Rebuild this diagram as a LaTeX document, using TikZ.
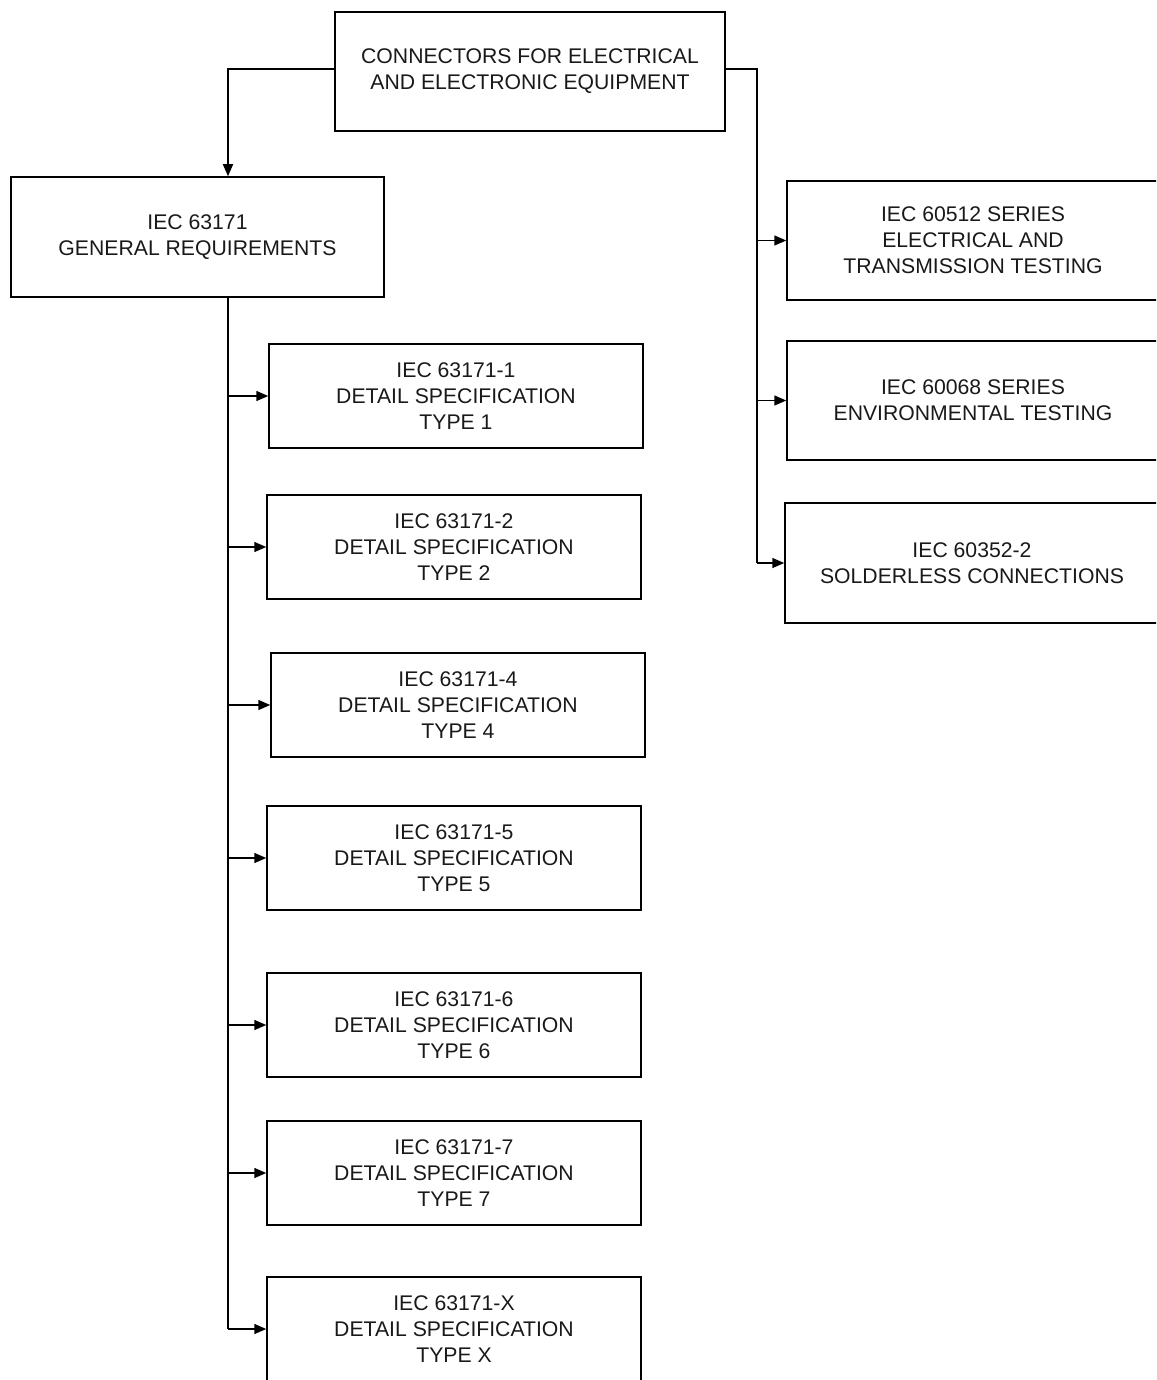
\documentclass[tikz,border=0pt]{standalone}
\usepackage{fontspec}
\setmainfont{Liberation Sans}
\usetikzlibrary{arrows.meta}
\begin{document}
\begin{tikzpicture}[x=1pt,y=-1pt,
  box/.style={draw,line width=1.5pt,align=center,inner sep=0pt,
    font=\fontsize{21.2}{26}\selectfont,text=black!90},
  conn/.style={line width=1.5pt,-{Triangle[length=12pt,width=10pt]}},
  wire/.style={line width=1.5pt}]
\useasboundingbox (0,0) rectangle (1156,1380);
\clip (0,0) rectangle (1156,1380);
% top
\node[box,minimum width=390pt,minimum height=119pt] (top) at (530,71.5) {CONNECTORS FOR ELECTRICAL\\AND ELECTRONIC EQUIPMENT};
\node[box,minimum width=373pt,minimum height=120pt] (gr) at (197.5,237) {IEC 63171\\GENERAL REQUIREMENTS};
% right
\node[box,minimum width=372pt,minimum height=119pt] (r1) at (973,240.5) {IEC 60512 SERIES\\ELECTRICAL AND\\TRANSMISSION TESTING};
\node[box,minimum width=372pt,minimum height=119pt] (r2) at (973,400.5) {IEC 60068 SERIES\\ENVIRONMENTAL TESTING};
\node[box,minimum width=374pt,minimum height=120pt] (r3) at (972,563) {IEC 60352-2\\SOLDERLESS CONNECTIONS};
% details
\node[box,minimum width=374pt,minimum height=104pt] (d1) at (456,396) {IEC 63171-1\\DETAIL SPECIFICATION\\TYPE 1};
\node[box,minimum width=374pt,minimum height=104pt] (d2) at (454,547) {IEC 63171-2\\DETAIL SPECIFICATION\\TYPE 2};
\node[box,minimum width=374pt,minimum height=104pt] (d4) at (458,705) {IEC 63171-4\\DETAIL SPECIFICATION\\TYPE 4};
\node[box,minimum width=374pt,minimum height=104pt] (d5) at (454,858) {IEC 63171-5\\DETAIL SPECIFICATION\\TYPE 5};
\node[box,minimum width=374pt,minimum height=104pt] (d6) at (454,1025) {IEC 63171-6\\DETAIL SPECIFICATION\\TYPE 6};
\node[box,minimum width=374pt,minimum height=104pt] (d7) at (454,1173) {IEC 63171-7\\DETAIL SPECIFICATION\\TYPE 7};
\node[box,minimum width=374pt,minimum height=104pt] (dX) at (454,1329) {IEC 63171-X\\DETAIL SPECIFICATION\\TYPE X};
% connectors
\coordinate (lv) at (228,69);
\coordinate (rv) at (757,69);
\coordinate (mv) at (228,297);
\draw[conn] (top.west |- lv) -- (lv) -- (lv |- gr.north);
\draw[wire] (top.east |- rv) -- (rv) -- (rv |- r3.west);
\foreach \n in {r1,r2,r3} \draw[conn] (rv |- \n.west) -- (\n.west);
\draw[wire] (gr.south -| mv) -- (mv |- dX.west);
\foreach \n in {d1,d2,d4,d5,d6,d7,dX} \draw[conn] (mv |- \n.west) -- (\n.west);
\end{tikzpicture}
\end{document}
